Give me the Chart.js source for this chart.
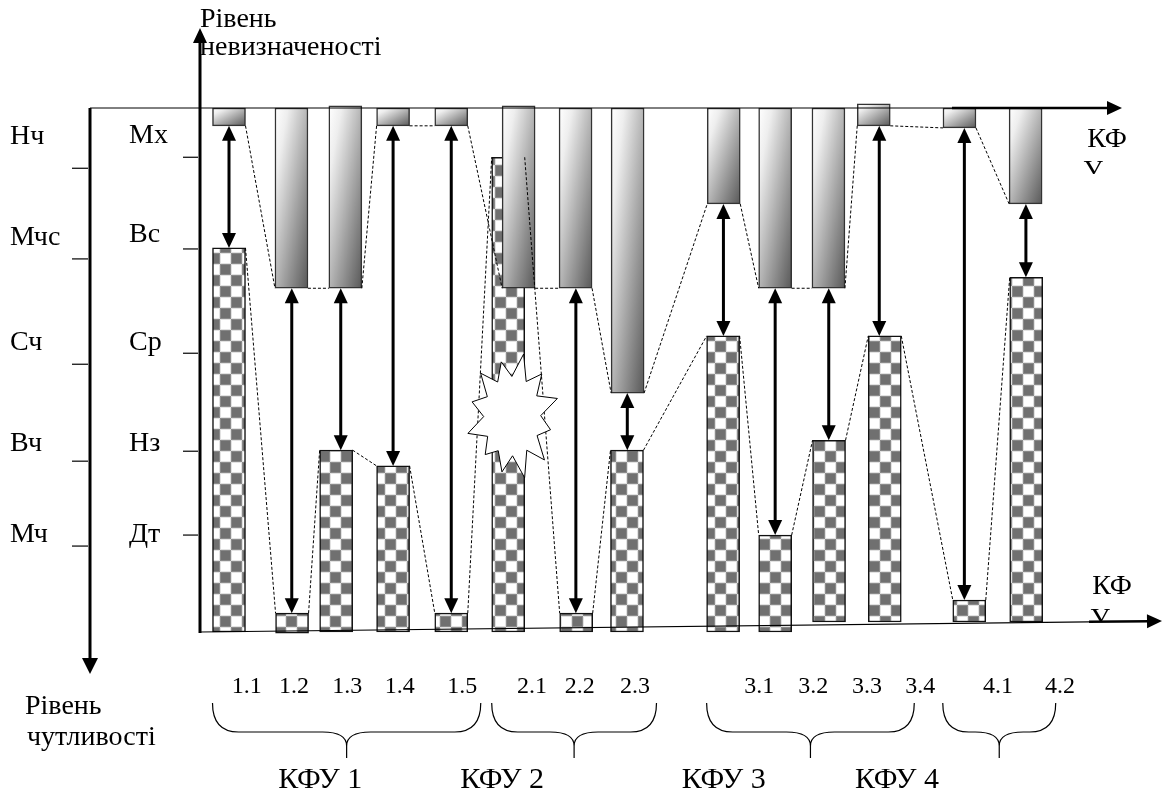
<!DOCTYPE html>
<html>
<head>
<meta charset="utf-8">
<script src="https://cdn.jsdelivr.net/npm/chart.js@4.4.1/dist/chart.umd.min.js"></script>
<style>
  html, body { margin: 0; padding: 0; background: #fff; }
  #wrap { width: 1163px; height: 793px; position: relative; }
</style>
</head>
<body>
<div id="wrap"><canvas id="kfu-chart"></canvas></div>
<script>
// Data

const labels = ["1.1", "1.2", "1.3", "1.4", "1.5", "2.1", "2.2", "2.3", "3.1", "3.2", "3.3", "3.4", "4.1", "4.2"];

// chequered bars (рівень чутливості): top and base
const sensitivity = [73.3, 3.6, 34.7, 31.7, 3.6, 90.6, 3.6, 34.7, 56.5, 18.5, 36.6, 56.5, 6.1, 67.7];
const sensitivityBase = [0, -0.2, 0, 0, 0, 0, 0, 0, 0, 0, 1.9, 1.9, 1.9, 1.9];

// hanging bars (рівень невизначеності): lower edge and top
const uncertainty = [96.6, 65.6, 65.6, 96.6, 96.6, 65.6, 65.6, 45.6, 81.7, 65.6, 65.6, 96.6, 96.2, 81.7];
const uncertaintyTop = [100, 100, 100.4, 100, 100, 100.4, 100, 100, 100, 100, 100, 100.8, 100, 100];

// where each factor sits along the КФУ axis
const barSlot = [0, 1.03, 1.75, 2.68, 3.63, 4.56, 5.67, 6.5, 8.07, 8.92, 9.8, 10.71, 12.09, 13.02];
const upperSlot = [0, 1.02, 1.9, 2.68, 3.63, 4.73, 5.66, 6.51, 8.08, 8.92, 9.79, 10.53, 11.93, 13.01];
const labelSlot = [0.29, 1.06, 1.93, 2.79, 3.81, 4.95, 5.73, 6.63, 8.66, 9.54, 10.42, 11.29, 12.56, 13.57];

// groups
const groups = ["КФУ 1", "КФУ 2", "КФУ 3", "КФУ 4"];
const groupFirst = [0, 5, 8, 12];
const groupLast = [4, 7, 11, 13];
const groupNameSlot = [1.49, 4.46, 8.08, 10.91];

// level scales on the left
const outerLevels = ["Нч", "Мчс", "Сч", "Вч", "Мч"];
const outerLevelAt = [94.5, 75.2, 55.3, 35.9, 18.5];
const outerTickAt = [88.5, 71.2, 51.1, 32.6, 16.4];
const innerLevels = ["Мх", "Вс", "Ср", "Нз", "Дт"];
const innerLevelAt = [94.8, 75.8, 55.3, 35.9, 18.5];
const innerTickAt = [90.6, 73.1, 53.2, 34.5, 18.5];

// factor with a broken link (drawn as a burst instead of an arrow)
const brokenLink = "2.1";
const burstLevel = 41.2;

const SERIF = '"Liberation Serif", "Times New Roman", serif';
const BAR_W = 33;

// Get the canvas element
const kfuChart = document.getElementById("kfu-chart");
const kfuChartContext = kfuChart.getContext("2d");

// chequered fill
const tile = document.createElement("canvas");
tile.width = 22;
tile.height = 22;
const tileCtx = tile.getContext("2d");
tileCtx.fillStyle = "#ffffff";
tileCtx.fillRect(0, 0, 22, 22);
tileCtx.fillStyle = "#e2e2e2";
tileCtx.fillRect(11, 0, 11, 11);
tileCtx.fillRect(0, 11, 11, 11);
tileCtx.fillStyle = "#ffffff";
tileCtx.fillRect(12, 1, 9, 9);
tileCtx.fillRect(1, 12, 9, 9);
tileCtx.fillStyle = "#8a8a8a";
tileCtx.fillRect(0, 0, 11, 11);
tileCtx.fillRect(11, 11, 11, 11);
tileCtx.fillStyle = "#707070";
tileCtx.fillRect(1, 1, 9, 9);
tileCtx.fillRect(12, 12, 9, 9);
const chequer = kfuChartContext.createPattern(tile, "repeat");

// diagonal shading of the hanging bars (white top-left, grey bottom-right)
function hangingFill(context) {
  const chart = context.chart;
  if (context.type !== "data" || !chart.chartArea) return "#bbbbbb";
  const xs = chart.scales.x;
  const ys = chart.scales.y;
  const raw = context.raw;
  const w = BAR_W;
  const x0 = xs.getPixelForValue(raw.x) - w / 2;
  const y0 = ys.getPixelForValue(raw.y[1]);
  const h = Math.max(1, ys.getPixelForValue(raw.y[0]) - y0);
  const l2 = w * w + h * h;
  const g = chart.ctx.createLinearGradient(x0, y0, x0 + (2 * w * h * h) / l2, y0 + (2 * w * w * h) / l2);
  g.addColorStop(0, "#ffffff");
  g.addColorStop(0.2, "#eeeeee");
  g.addColorStop(1, "#585858");
  return g;
}

function head(ctx, tx, ty, dx, dy, len, half) {
  // tip at (tx, ty), pointing along (dx, dy)
  ctx.beginPath();
  ctx.moveTo(tx, ty);
  ctx.lineTo(tx - dx * len - dy * half, ty - dy * len + dx * half);
  ctx.lineTo(tx - dx * len + dy * half, ty - dy * len - dx * half);
  ctx.closePath();
  ctx.fill();
}

function line(ctx, x1, y1, x2, y2, width, dash) {
  ctx.save();
  ctx.lineWidth = width;
  ctx.setLineDash(dash || []);
  ctx.beginPath();
  ctx.moveTo(x1, y1);
  ctx.lineTo(x2, y2);
  ctx.stroke();
  ctx.restore();
}

function brace(ctx, left, right, top, mid, tip) {
  const c = (left + right) / 2;
  ctx.beginPath();
  ctx.moveTo(left, top);
  ctx.quadraticCurveTo(left, mid, left + 26, mid);
  ctx.lineTo(c - 24, mid);
  ctx.quadraticCurveTo(c, mid, c, mid + 14);
  ctx.lineTo(c, tip);
  ctx.moveTo(right, top);
  ctx.quadraticCurveTo(right, mid, right - 26, mid);
  ctx.lineTo(c + 24, mid);
  ctx.quadraticCurveTo(c, mid, c, mid + 14);
  ctx.stroke();
}

const schemePlugin = {
  id: "scheme",
  afterDatasetsDraw(chart) {
    const ctx = chart.ctx;
    const xs = chart.scales.x;
    const ys = chart.scales.y;
    const area = chart.chartArea;
    const half = BAR_W / 2;
    ctx.save();
    ctx.strokeStyle = "#000";
    ctx.fillStyle = "#000";

    // dotted links between neighbouring bars
    for (let i = 0; i < labels.length - 1; i++) {
      line(ctx, xs.getPixelForValue(barSlot[i]) + half, ys.getPixelForValue(sensitivity[i]),
        xs.getPixelForValue(barSlot[i + 1]) - half, ys.getPixelForValue(sensitivity[i + 1]), 1, [3, 2]);
      line(ctx, xs.getPixelForValue(upperSlot[i]) + half, ys.getPixelForValue(uncertainty[i]),
        xs.getPixelForValue(upperSlot[i + 1]) - half, ys.getPixelForValue(uncertainty[i + 1]), 1, [3, 2]);
    }

    // double arrows between the two levels
    for (let i = 0; i < labels.length; i++) {
      if (labels[i] === brokenLink) continue;
      const ax = xs.getPixelForValue((barSlot[i] + upperSlot[i]) / 2);
      const yTop = ys.getPixelForValue(uncertainty[i]);
      const yBot = ys.getPixelForValue(sensitivity[i]);
      line(ctx, ax, yTop + 12, ax, yBot - 12, 3);
      head(ctx, ax, yTop, 0, -1, 15, 7);
      head(ctx, ax, yBot, 0, 1, 15, 7);
    }

    // burst on the broken factor
    const bi = labels.indexOf(brokenLink);
    const bx = xs.getPixelForValue(barSlot[bi]) + 4;
    const by = ys.getPixelForValue(burstLevel);
    const spikes = 12;
    const outerK = [1, 0.92, 1.02, 0.86, 0.98, 1, 0.9, 0.84, 1, 0.9, 0.96, 0.88];
    ctx.beginPath();
    for (let k = 0; k < spikes * 2; k++) {
      const a = -Math.PI / 2 + 0.25 + (k * Math.PI) / spikes;
      const r = k % 2 === 0 ? outerK[k / 2] : 0.62;
      const px = bx + Math.cos(a) * 46 * r;
      const py = by + Math.sin(a) * 64 * r;
      if (k === 0) ctx.moveTo(px, py);
      else ctx.lineTo(px, py);
    }
    ctx.closePath();
    ctx.fillStyle = "#fff";
    ctx.fill();
    ctx.lineWidth = 1;
    ctx.stroke();
    ctx.fillStyle = "#000";

    // axes
    const topY = ys.getPixelForValue(100);
    const outerX = area.left - 110;
    line(ctx, outerX, topY, 952, topY, 1);
    line(ctx, 952, topY, 1110, topY, 2.5);
    head(ctx, 1122, topY, 1, 0, 15, 7);

    const y0 = ys.getPixelForValue(0);
    const yEnd = ys.getPixelForValue(2.1);
    const slope = (yEnd - y0) / (1162 - area.left);
    line(ctx, area.left, y0, 1089, y0 + slope * (1089 - area.left), 1.2);
    line(ctx, 1089, y0 + slope * (1089 - area.left), 1150, y0 + slope * (1150 - area.left), 2.5);
    head(ctx, 1162, yEnd, 1, slope, 15, 7);

    line(ctx, area.left, y0 + 1, area.left, 40, 3);
    head(ctx, area.left, 28, 0, -1, 15, 7);
    line(ctx, outerX, topY, outerX, 660, 3);
    head(ctx, outerX, 674, 0, 1, 16, 8);

    for (let i = 0; i < outerTickAt.length; i++) {
      line(ctx, outerX - 18, ys.getPixelForValue(outerTickAt[i]), outerX - 2, ys.getPixelForValue(outerTickAt[i]), 1.2);
      line(ctx, area.left - 17, ys.getPixelForValue(innerTickAt[i]), area.left - 2, ys.getPixelForValue(innerTickAt[i]), 1.2);
    }
    ctx.restore();
  },
  afterDraw(chart) {
    const ctx = chart.ctx;
    const xs = chart.scales.x;
    const ys = chart.scales.y;
    const area = chart.chartArea;
    ctx.save();
    ctx.fillStyle = "#000";
    ctx.strokeStyle = "#000";

    // level names
    ctx.font = "28px " + SERIF;
    ctx.textAlign = "left";
    ctx.textBaseline = "middle";
    for (let i = 0; i < outerLevels.length; i++) {
      ctx.fillText(outerLevels[i], 10, ys.getPixelForValue(outerLevelAt[i]));
      ctx.fillText(innerLevels[i], 129, ys.getPixelForValue(innerLevelAt[i]));
    }

    // axis titles
    ctx.textBaseline = "alphabetic";
    ctx.fillText("Рівень", area.left, 27);
    ctx.fillText("невизначеності", area.left, 55);
    ctx.fillText("Рівень", 25, 714);
    ctx.fillText("чутливості", 27, 745);

    ctx.textAlign = "center";
    ctx.fillText("КФ", 1107, 147);
    ctx.fillText("КФ", 1112, 594);
    ctx.save();
    ctx.beginPath();
    ctx.rect(1070, 150, 60, 24);
    ctx.clip();
    ctx.fillText("У", 1093, 179);
    ctx.restore();
    ctx.save();
    ctx.beginPath();
    ctx.rect(1075, 600, 60, 21);
    ctx.clip();
    ctx.fillText("У", 1100, 627);
    ctx.restore();

    // factor labels
    ctx.font = "24px " + SERIF;
    for (let i = 0; i < labels.length; i++) {
      ctx.fillText(labels[i], xs.getPixelForValue(labelSlot[i]), 693);
    }

    // group braces and names
    ctx.lineWidth = 1.2;
    ctx.font = "30px " + SERIF;
    for (let g = 0; g < groups.length; g++) {
      const left = xs.getPixelForValue(barSlot[groupFirst[g]]) - BAR_W / 2 + (g === 3 ? -10 : 0);
      const right = xs.getPixelForValue(barSlot[groupLast[g]]) + BAR_W / 2 + 13;
      brace(ctx, left, right, 703, 732, 758);
      ctx.fillText(groups[g], xs.getPixelForValue(groupNameSlot[g]), 788);
    }
    ctx.restore();
  },
};

const upperData = labels.map((l, i) => ({ x: upperSlot[i], y: [uncertainty[i], uncertaintyTop[i]] }));
const lowerData = labels.map((l, i) => ({ x: barSlot[i], y: [sensitivityBase[i], sensitivity[i]] }));

new Chart(kfuChartContext, {
  type: "bar",
  data: {
    datasets: [
      {
        label: "Рівень невизначеності",
        data: upperData,
        backgroundColor: hangingFill,
        borderColor: "#333",
        borderWidth: 1.5,
        borderSkipped: false,
        barThickness: BAR_W,
        grouped: false,
        clip: false,
      },
      {
        label: "Рівень чутливості",
        data: lowerData,
        backgroundColor: chequer,
        borderColor: "#111",
        borderWidth: 1.5,
        borderSkipped: false,
        barThickness: BAR_W,
        grouped: false,
        clip: false,
      },
    ],
  },
  options: {
    responsive: true,
    maintainAspectRatio: false,
    animation: false,
    layout: { padding: { left: 200, right: 0, top: 108, bottom: 161 } },
    scales: {
      x: { type: "linear", min: -0.4736, max: 15.254, offset: false, display: false },
      y: { min: 0, max: 100, display: false },
    },
    plugins: {
      legend: { display: false },
      tooltip: { enabled: false },
    },
  },
  plugins: [schemePlugin],
});
</script>
</body>
</html>
